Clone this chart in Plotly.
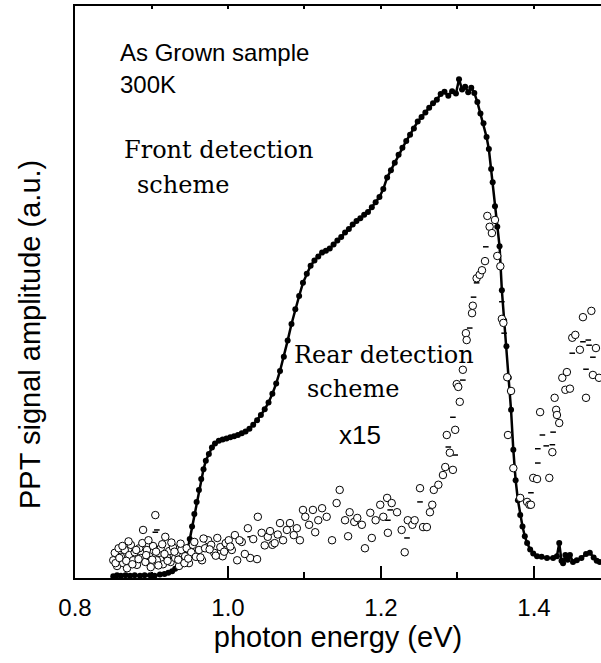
import plotly.graph_objects as go

# ---------------- data ----------------
front_E = [0.850, 0.855, 0.860, 0.866, 0.872, 0.878, 0.885, 0.891, 0.898, 0.904, 0.911, 0.917,
           0.922, 0.927, 0.931, 0.935, 0.939, 0.942, 0.945, 0.948, 0.950, 0.953, 0.956, 0.959,
           0.962, 0.965, 0.968, 0.971, 0.975, 0.979, 0.983, 0.988, 0.993, 0.998, 1.003, 1.008,
           1.013, 1.018, 1.023, 1.028, 1.033, 1.038, 1.043, 1.048, 1.053, 1.058, 1.063, 1.068,
           1.073, 1.078, 1.083, 1.088, 1.093, 1.098, 1.103, 1.108, 1.113, 1.118, 1.123, 1.128,
           1.133, 1.138, 1.143, 1.148, 1.153, 1.158, 1.163, 1.168, 1.173, 1.178, 1.183, 1.188,
           1.193, 1.198, 1.203, 1.208, 1.213, 1.218, 1.223, 1.228, 1.233, 1.238, 1.243, 1.248,
           1.253, 1.258, 1.263, 1.268, 1.273, 1.278, 1.283, 1.288, 1.293, 1.298, 1.302, 1.306,
           1.310, 1.314, 1.318, 1.322, 1.326, 1.330, 1.334, 1.338, 1.341, 1.344, 1.346, 1.349,
           1.352, 1.355, 1.358, 1.361, 1.364, 1.367, 1.370, 1.373, 1.376, 1.379, 1.382, 1.385,
           1.388, 1.391, 1.395, 1.399, 1.404, 1.410, 1.417, 1.425, 1.430, 1.433, 1.436, 1.438,
           1.441, 1.444, 1.447, 1.451, 1.456, 1.462, 1.468, 1.473, 1.478, 1.482, 1.486]
front_S = [0.3, 0.5, 0.4, 0.5, 0.4, 0.5, 0.4, 0.5, 0.5, 0.4, 0.6, 0.7,
           0.9, 1.2, 1.6, 2.1, 2.8, 3.5, 4.3, 5.4, 6.8, 9.0, 11.2, 13.3,
           15.4, 17.3, 19.0, 20.5, 21.7, 22.8, 23.5, 24.0, 24.2, 24.4, 24.6, 24.8,
           25.0, 25.3, 25.6, 26.1, 26.8, 27.6, 28.5, 29.5, 30.7, 32.2, 34.0, 36.2,
           38.7, 41.5, 44.4, 47.0, 49.3, 51.6, 53.2, 54.6, 55.5, 56.2, 56.9, 57.2,
           57.6, 58.3, 59.0, 59.6, 60.4, 61.0, 61.8, 62.4, 62.9, 63.5, 64.0, 64.8,
           65.7, 66.6, 68.0, 70.0, 71.3, 72.6, 74.0, 75.2, 76.4, 77.5, 78.6, 79.8,
           80.6, 81.4, 82.2, 83.0, 83.6, 84.6, 85.0, 84.3, 85.1, 84.7, 87.2, 85.4,
           85.9, 84.9, 85.7, 84.8, 83.2, 81.2, 79.5, 77.1, 75.0, 71.5, 69.2, 65.0,
           61.4, 58.0, 50.3, 45.0, 40.5, 35.0, 29.4, 22.4, 17.1, 13.6, 11.0, 9.0,
           7.3, 6.1, 5.0, 4.3, 3.8, 3.7, 3.5, 3.5, 3.8, 6.1, 3.0, 2.6,
           4.0, 3.2, 4.0, 2.8, 3.1, 3.5, 4.2, 4.4, 3.6, 3.0, 2.8]

rear_E = [0.850, 0.852, 0.855, 0.857, 0.860, 0.863, 0.865, 0.868, 0.871, 0.873, 0.876, 0.878,
          0.881, 0.884, 0.886, 0.889, 0.892, 0.894, 0.897, 0.899, 0.902, 0.905, 0.907, 0.910,
          0.912, 0.915, 0.918, 0.920, 0.923, 0.925, 0.928, 0.931, 0.933, 0.936, 0.939, 0.941,
          0.944, 0.946, 0.949, 0.952, 0.954, 0.958, 0.962, 0.966, 0.970, 0.974, 0.978, 0.982,
          0.986, 0.990, 0.993, 0.997, 1.001, 1.005, 1.009, 1.012, 1.018, 1.026, 1.029, 1.038,
          1.039, 1.044, 1.052, 1.058, 1.061, 1.068, 1.072, 1.077, 1.081, 1.086, 1.090, 1.094,
          1.098, 1.101, 1.106, 1.111, 1.114, 1.118, 1.123, 1.129, 1.136, 1.142, 1.146, 1.153,
          1.157, 1.159, 1.165, 1.169, 1.175, 1.179, 1.186, 1.188, 1.193, 1.199, 1.203, 1.208,
          1.209, 1.214, 1.221, 1.227, 1.231, 1.235, 1.241, 1.244, 1.251, 1.255, 1.260, 1.264,
          1.267, 1.269, 1.275, 1.281, 1.284, 1.286, 1.290, 1.294, 1.297, 1.299, 1.301, 1.303,
          1.307, 1.311, 1.312, 1.319, 1.320, 1.325, 1.329, 1.332, 1.336, 1.339, 1.342, 1.345,
          1.349, 1.352, 1.356, 1.358, 1.360, 1.365, 1.366, 1.370, 1.373, 1.382, 1.391, 1.394,
          1.396, 1.399, 1.404, 1.408, 1.420, 1.424, 1.427, 1.429, 1.430, 1.433, 1.437, 1.441,
          1.443, 1.447, 1.450, 1.454, 1.460, 1.464, 1.468, 1.475, 1.477, 1.481, 1.485,
          0.853, 0.858, 0.862, 0.867, 0.870, 0.875, 0.880, 0.883, 0.888, 0.893, 0.896, 0.901,
          0.906, 0.909, 0.914, 0.917, 0.921, 0.926, 0.930, 0.935, 0.938, 0.943, 0.948, 0.956,
          0.964, 0.968, 0.976, 0.984, 0.995, 1.003, 1.015, 1.022, 1.033, 1.048, 1.055, 1.065]
rear_S = [3.1, 4.4, 2.1, 5.2, 3.7, 2.6, 4.9, 1.7, 4.0, 5.8, 3.1, 4.5,
          2.3, 5.2, 3.5, 8.4, 2.8, 4.9, 3.8, 1.9, 5.6, 11.0, 3.1, 4.4,
          5.2, 2.4, 7.2, 3.7, 4.7, 2.8, 5.4, 3.5, 4.4, 2.1, 4.9, 3.1,
          3.8, 5.2, 2.6, 4.5, 5.8, 3.7, 4.9, 3.1, 5.2, 6.6, 5.8, 4.4,
          7.0, 5.4, 3.8, 6.1, 6.6, 4.9, 7.5, 3.1, 6.3, 8.7, 3.5, 3.3,
          10.7, 7.9, 7.2, 5.8, 6.1, 9.6, 6.6, 8.4, 9.6, 7.5, 8.7, 6.6,
          11.9, 10.7, 9.3, 11.9, 8.0, 10.1, 12.2, 10.7, 6.6, 13.1, 15.4, 10.1,
          7.3, 11.5, 9.8, 10.5, 9.3, 5.2, 11.4, 7.0, 10.1, 12.8, 10.7, 14.0,
          7.9, 13.1, 11.5, 8.4, 4.5, 10.1, 9.3, 10.1, 15.7, 8.9, 8.9, 11.5,
          12.8, 15.4, 16.3, 18.0, 19.4, 25.0, 21.9, 18.9, 25.9, 33.9, 33.4, 30.8,
          36.4, 42.8, 41.6, 46.3, 47.6, 52.4, 53.0, 53.8, 55.4, 63.3, 61.4, 60.3,
          62.6, 56.3, 54.5, 45.3, 44.6, 35.1, 25.0, 32.7, 19.2, 14.0, 13.3, 12.8,
          12.8, 17.5, 17.3, 29.0, 17.5, 22.0, 31.5, 29.4, 28.5, 27.1, 35.0, 32.9,
          36.0, 33.1, 42.0, 42.5, 39.9, 45.6, 31.5, 46.7, 35.5, 40.2, 35.0,
          2.6, 3.5, 5.6, 3.0, 6.4, 2.4, 4.9, 3.3, 6.1, 4.0, 6.6, 3.2,
          4.6, 2.2, 5.9, 4.2, 3.0, 6.2, 4.6, 3.2, 6.0, 2.6, 3.4, 6.3,
          3.6, 6.9, 5.0, 3.9, 4.6, 5.5, 6.6, 4.2, 6.8, 5.7, 8.2, 7.6]

dash_E = [0.885, 0.905, 0.907, 0.970, 1.029, 1.203, 1.209, 1.212, 1.234, 1.251, 1.288, 1.294,
          1.297, 1.307, 1.316, 1.321, 1.325, 1.337, 1.358, 1.361, 1.396, 1.405, 1.405, 1.411,
          1.416, 1.424, 1.425, 1.450, 1.464, 1.468, 1.471, 1.472, 1.477]
dash_S = [5.1, 8.0, 8.4, 5.2, 7.2, 11.0, 10.1, 11.9, 7.0, 13.3, 22.9, 28.1,
          21.5, 34.6, 43.7, 49.1, 51.6, 57.9, 48.3, 42.8, 14.9, 20.1, 22.6, 25.0,
          23.1, 23.3, 25.5, 39.3, 41.3, 36.5, 41.6, 40.7, 38.6]

x_ticks = [0.8, 1.0, 1.2, 1.4]
x_ticktext = ["0.8", "1.0", "1.2", "1.4"]

# ---------------- figure ----------------
W, H = 601, 663
L, R, T, B = 75, 0, 6, 85


def px_x(px):
    return (px - L) / (W - L - R)


def px_y(py):
    return (H - B - py) / (H - B - T)


fig = go.Figure()

fig.add_trace(go.Scatter(
    x=front_E, y=front_S, mode="lines+markers",
    line=dict(color="black", width=2.5),
    marker=dict(symbol="circle", size=6, color="black"),
    showlegend=False, hoverinfo="skip"))

fig.add_trace(go.Scatter(
    x=dash_E, y=dash_S, mode="markers",
    marker=dict(symbol="line-ew", size=4, line=dict(color="black", width=1.5)),
    showlegend=False, hoverinfo="skip"))

fig.add_trace(go.Scatter(
    x=rear_E, y=rear_S, mode="markers",
    marker=dict(symbol="circle", size=7.5, color="white",
                line=dict(color="black", width=1)),
    showlegend=False, hoverinfo="skip"))

# invisible trace for top-axis ticks
fig.add_trace(go.Scatter(x=[0.8], y=[0], xaxis="x2", mode="markers",
                         marker=dict(opacity=0), showlegend=False, hoverinfo="skip"))

sans = "Liberation Sans, Arial, sans-serif"
serif = "DejaVu Serif, serif"

annos = [
    dict(text="As Grown sample", x=px_x(118), y=px_y(52), font=dict(family=sans, size=24)),
    dict(text="300K", x=px_x(118), y=px_y(84), font=dict(family=sans, size=24)),
    dict(text="Front detection", x=px_x(122), y=px_y(150), font=dict(family=serif, size=24)),
    dict(text="scheme", x=px_x(135), y=px_y(185), font=dict(family=serif, size=24)),
    dict(text="Rear detection", x=px_x(292), y=px_y(355), font=dict(family=serif, size=24)),
    dict(text="scheme", x=px_x(305), y=px_y(389), font=dict(family=serif, size=24)),
    dict(text="x15", x=px_x(337), y=px_y(435), font=dict(family=sans, size=26)),
]
for a in annos:
    a.update(xref="paper", yref="paper", xanchor="left", yanchor="middle",
             showarrow=False)
    a["font"]["color"] = "black"
annos.append(dict(text="PPT signal amplitude (a.u.)", x=px_x(30), y=px_y(335),
                  xref="paper", yref="paper", xanchor="center", yanchor="middle",
                  textangle=-90, showarrow=False,
                  font=dict(family=sans, size=29, color="black")))

fig.update_layout(
    width=W, height=H,
    margin=dict(l=L, r=R, t=T, b=B, pad=0),
    paper_bgcolor="white", plot_bgcolor="white",
    annotations=annos,
    xaxis=dict(range=[0.8, 1.4876], showgrid=False, zeroline=False,
               showline=True, linecolor="black", linewidth=2, mirror=True,
               tickmode="array", tickvals=x_ticks, ticktext=x_ticktext,
               ticks="inside", ticklen=12, tickwidth=2, tickcolor="black",
               minor=dict(dtick=0.1, tick0=0.8, ticks="inside", ticklen=6,
                          tickwidth=2, tickcolor="black", showgrid=False),
               tickfont=dict(family=sans, size=24, color="black"),
               ticklabelstandoff=7,
               title=dict(text="photon energy (eV)", standoff=6,
                          font=dict(family=sans, size=29, color="black"))),
    xaxis2=dict(overlaying="x", side="top", matches="x", range=[0.8, 1.4876],
                showgrid=False, zeroline=False, showline=False,
                showticklabels=False, tickmode="linear", tick0=0.8, dtick=0.1,
                ticks="inside", ticklen=3, tickwidth=1.5, tickcolor="black"),
    yaxis=dict(range=[0, 100], showgrid=False, zeroline=False,
               showline=True, linecolor="black", linewidth=2,
               showticklabels=False, ticks=""),
)

fig.write_html("out.html")
